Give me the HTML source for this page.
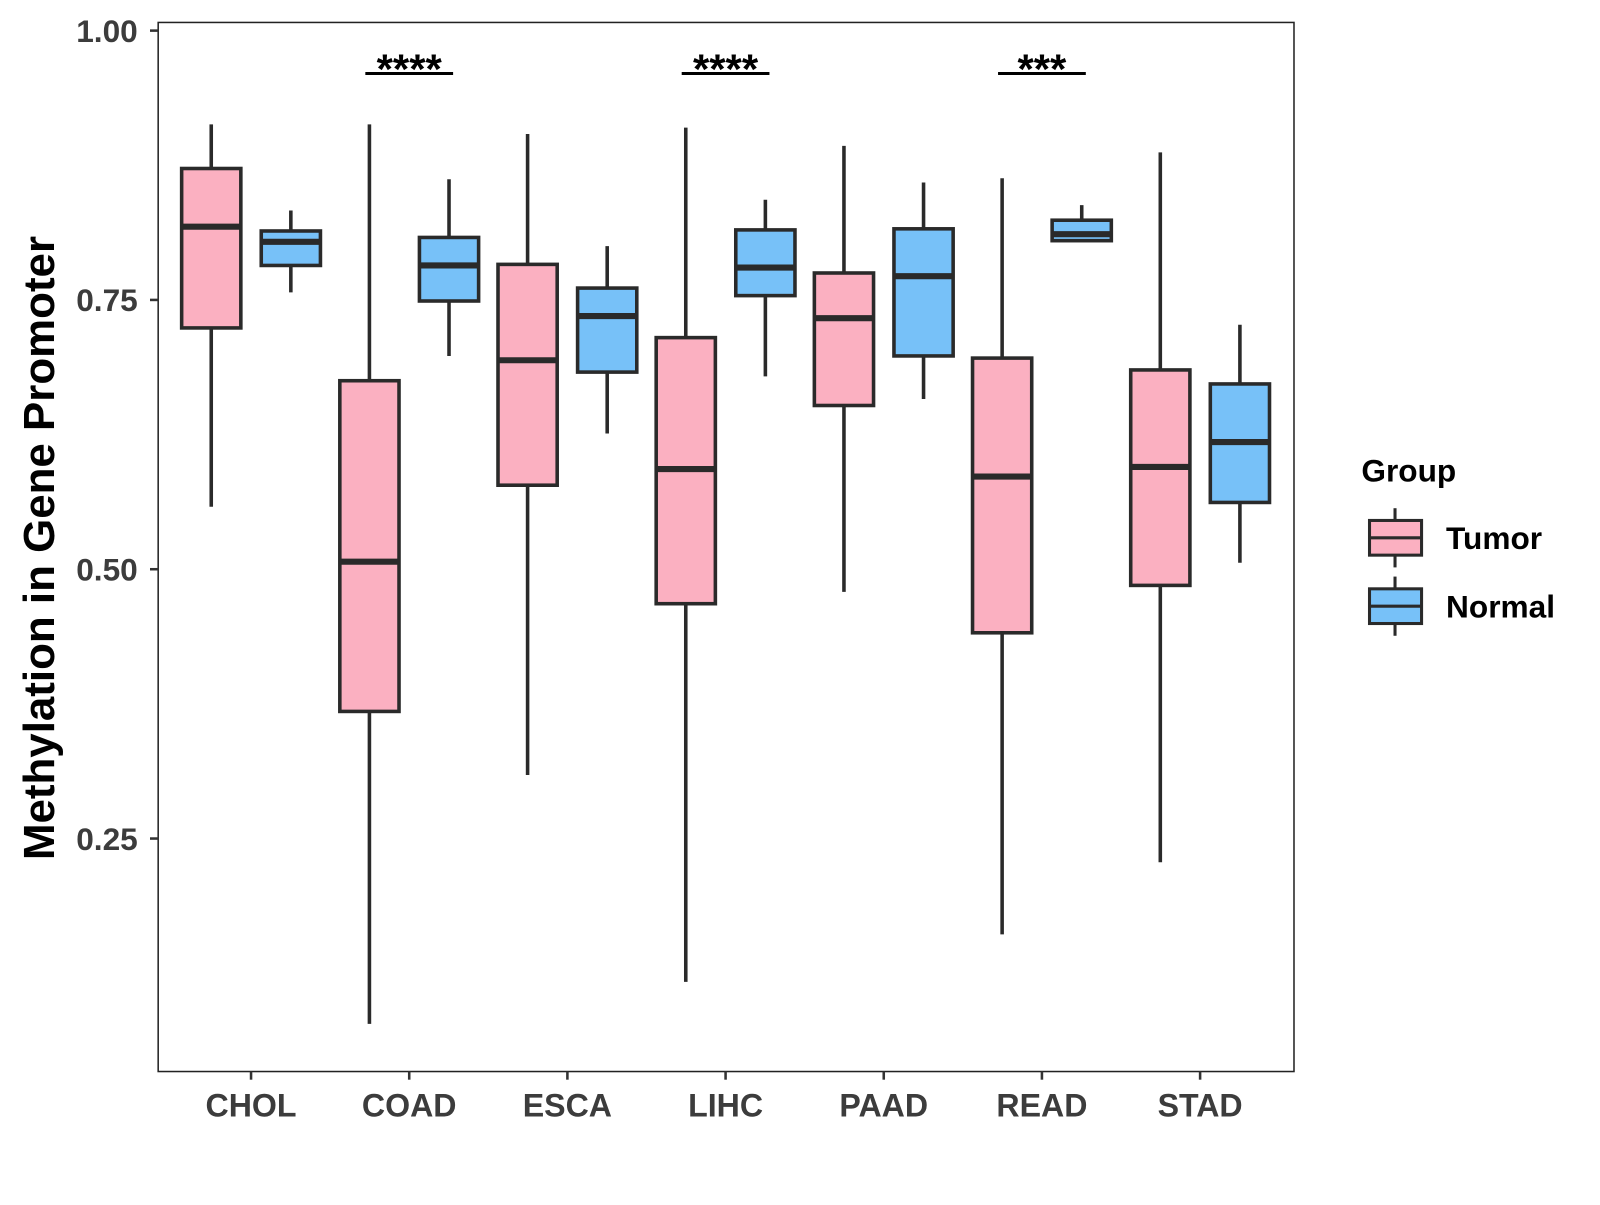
<!DOCTYPE html>
<html><head><meta charset="utf-8"><style>
body{margin:0;background:#fff}
text{font-family:"Liberation Sans",Arial,sans-serif;font-weight:bold}
</style></head><body>
<svg id="chart" width="1600" height="1200" viewBox="0 0 1600 1200" xmlns="http://www.w3.org/2000/svg">
<rect width="1600" height="1200" fill="#fff"/>
<g id="plot" transform="scale(1.0205)"></g>
</svg>
<script>
const categories=["CHOL","COAD","ESCA","LIHC","PAAD","READ","STAD"];
// [low, q1, median, q3, high]
const tumorStats=[[0.558,0.724,0.818,0.872,0.913],[0.078,0.368,0.507,0.675,0.913],[0.309,0.578,0.694,0.783,0.904],[0.117,0.468,0.593,0.715,0.910],[0.479,0.652,0.733,0.775,0.893],[0.161,0.441,0.586,0.696,0.863],[0.228,0.485,0.595,0.685,0.887]];
const normalStats=[[0.757,0.782,0.804,0.814,0.833],[0.698,0.749,0.782,0.808,0.862],[0.626,0.683,0.735,0.761,0.800],[0.679,0.754,0.780,0.815,0.843],[0.658,0.698,0.772,0.816,0.859],[0.804,0.805,0.811,0.824,0.838],[0.506,0.562,0.618,0.672,0.727]];
const yTicks=[0.25,0.50,0.75,1.00];
const yTickLabels=["0.25","0.50","0.75","1.00"];
const sigCategories=["COAD","LIHC","READ"];
const sigLabels=["****","****","***"];

const NS="http://www.w3.org/2000/svg";
const g=document.getElementById('plot');
const L=155,T=22,R=1268,B=1050;
function y(v){return 30+(1-v)*1055.6;}
function x(i){return 246+i*155;}
function el(tag,attrs,parent){const e=document.createElementNS(NS,tag);for(const k in attrs)e.setAttribute(k,attrs[k]);(parent||g).appendChild(e);return e;}

const frame=el('rect',{x:L,y:T,width:R-L,height:B-T,fill:'none',stroke:'#222','stroke-width':1.5});



yTicks.forEach((v,i)=>{
  const t=el('line',{x1:L-8,x2:L,y1:y(v),y2:y(v),stroke:'#333','stroke-width':2.5});
  
  
  const lb=el('text',{x:L-20,y:y(v)+11,'text-anchor':'end','font-size':31,fill:'#3c3c3c'});
  lb.textContent=yTickLabels[i];
  
  
});
categories.forEach((c,i)=>{
  const t=el('line',{x1:x(i),x2:x(i),y1:B,y2:B+8,stroke:'#333','stroke-width':2.5});
  
  
  const lb=el('text',{x:x(i),y:1094,'text-anchor':'middle','font-size':31.5,fill:'#3c3c3c'});
  lb.textContent=c;
  
  
});
const yt=el('text',{x:0,y:0,transform:'translate(53,537) rotate(-90)','text-anchor':'middle','font-size':43,fill:'#000'});
yt.textContent='Methylation in Gene Promoter';



function box(cx,s,fill,name){
  const gg=el('g',{});
  
  
  el('line',{x1:cx,x2:cx,y1:y(s[0]),y2:y(s[4]),stroke:'#2a2a2a','stroke-width':3.5},gg);
  el('rect',{x:cx-29,y:y(s[3]),width:58,height:y(s[1])-y(s[3]),fill:fill,stroke:'#2a2a2a','stroke-width':3.5},gg);
  el('line',{x1:cx-29,x2:cx+29,y1:y(s[2]),y2:y(s[2]),stroke:'#2a2a2a','stroke-width':6},gg);
}
categories.forEach((c,i)=>{
  box(x(i)-39,tumorStats[i],'#fbb0c1','tumor-box-'+c.toLowerCase());
  box(x(i)+39,normalStats[i],'#77c1f8','normal-box-'+c.toLowerCase());
});
sigCategories.forEach((c,k)=>{
  const i=categories.indexOf(c);
  const ln=el('line',{x1:x(i)-43,x2:x(i)+43,y1:72,y2:72,stroke:'#000','stroke-width':3});
  
  
  const t=el('text',{x:x(i),y:82,'text-anchor':'middle','font-size':41,fill:'#000'});
  t.textContent=sigLabels[k];
  
  
});
// legend
const lt=el('text',{x:1334,y:472,'font-size':31,fill:'#000'});
lt.textContent='Group';


[['Tumor','#fbb0c1',527],['Normal','#77c1f8',594]].forEach(([n,f,cy])=>{
  const gg=el('g',{});
  
  
  el('line',{x1:1367,x2:1367,y1:cy-29,y2:cy+29,stroke:'#2a2a2a','stroke-width':3},gg);
  el('rect',{x:1342,y:cy-17,width:51,height:34,fill:f,stroke:'#2a2a2a','stroke-width':3},gg);
  el('line',{x1:1342,x2:1393,y1:cy,y2:cy,stroke:'#2a2a2a','stroke-width':3},gg);
  const t=el('text',{x:1417,y:cy+11,'font-size':31,fill:'#000'},gg);
  t.textContent=n;
});
</script>
</body></html>
